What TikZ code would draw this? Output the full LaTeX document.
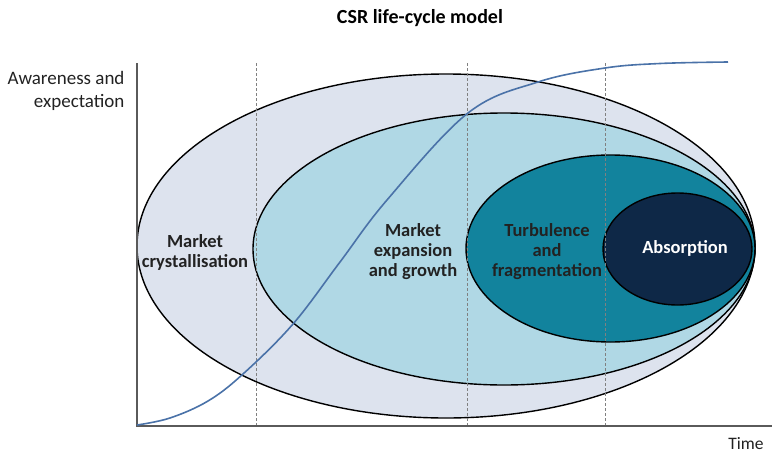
\documentclass[tikz,border=0pt]{standalone}
\usepackage{fontspec}
\setmainfont{Carlito}
\usetikzlibrary{shapes.geometric}
\definecolor{outerfill}{HTML}{DDE3EE}
\definecolor{midfill}{HTML}{B0D8E5}
\definecolor{tealfill}{HTML}{12839D}
\definecolor{navyfill}{HTML}{0E2847}
\definecolor{curveblue}{HTML}{4A72A8}
\definecolor{axisgray}{HTML}{5A5A5A}
\definecolor{guidegray}{HTML}{808080}
\definecolor{labeltext}{HTML}{222222}

\begin{document}
\begin{tikzpicture}[x=1pt,y=-1pt,
  stage/.style={ellipse, draw=black, line width=1.4pt, inner sep=0pt},
  lbl/.style={font=\fontsize{18.5}{20}\selectfont\bfseries, align=center, text=labeltext},
  guide/.style={guidegray, line width=0.8pt, dash pattern=on 3pt off 2pt},
  axisline/.style={axisgray, line width=1.3pt},
  scurve/.style={curveblue, line width=1.6pt}]
\useasboundingbox (0,0) rectangle (772,453);

% nested life-cycle stages
\node[stage, fill=outerfill, minimum width=618pt, minimum height=344pt] (crys) at (446,246) {};
\node[stage, fill=midfill,   minimum width=502pt, minimum height=272pt] (expa) at (504,249) {};
\node[stage, fill=tealfill,  minimum width=289pt, minimum height=187pt] (turb) at (610.5,248.5) {};
\node[stage, fill=navyfill,  minimum width=149pt, minimum height=112pt] (abso) at (677.5,249) {};

% stage boundaries
\foreach \gx/\gn in {256/ga,467/gb,605/gc}{
  \coordinate (\gn top) at (\gx,63);
  \coordinate (\gn bot) at (\gx,426);
  \draw[guide] (\gn top) -- (\gn bot);
}

% axes
\coordinate (ytop) at (137,63);
\coordinate (xend) at (772,426);
\draw[axisline] (ytop) |- (xend);

% awareness curve
\draw[scurve] plot[smooth, tension=0.6] coordinates {
  (137,425) (170,418) (208,401) (243,374) (293,324) (340,262) (387,200)
  (468,113) (538,82) (605,68) (660,63.5) (728,62)};

% labels
\node[lbl] (lcrys) at (195,252) {Market\\crystallisation};
\node[lbl] (lexpa) at (413,252) {Market\\expansion\\and growth};
\node[lbl] (lturb) at (547,252) {Turbulence\\and\\fragmentation};
\node[lbl, text=white] (labso) at (685,248) {Absorption};

\node[font=\fontsize{20}{24}\selectfont\bfseries] (title) at (420,18) {CSR life-cycle model};
\node[font=\fontsize{19}{23}\selectfont, align=right, anchor=east, text=labeltext] (yname) at (128,91) {Awareness and\\expectation};
\node[font=\fontsize{17.5}{20}\selectfont, text=labeltext] (xname) at (746,444) {Time};
\end{tikzpicture}
\end{document}
